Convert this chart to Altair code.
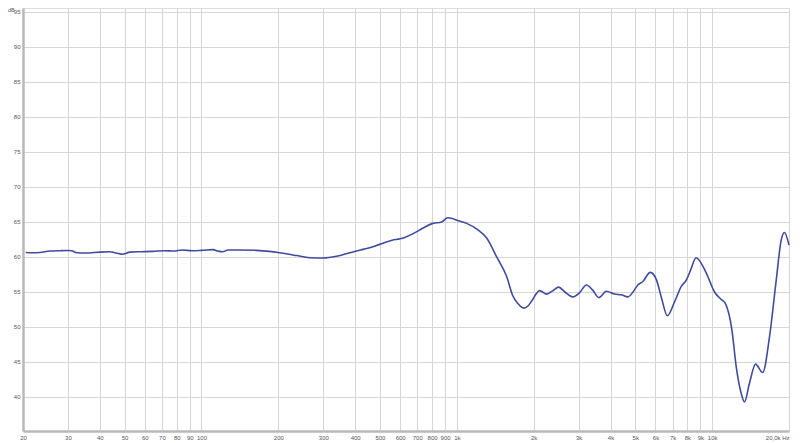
import altair as alt
import pandas as pd

# Frequency response (Hz, dB)
freq = [20.5, 22, 23.3, 25.5, 28, 30, 31, 32.5, 35.6, 38, 40, 43.8, 45.8, 48.9, 52.5,
        58, 64.5, 72, 78, 84, 92, 100, 111, 116, 121, 127, 140, 164, 185, 203, 220,
        236, 266, 300, 338, 381, 420, 444, 499, 558, 600, 625, 672, 735, 805, 873,
        921, 960, 1000, 1093, 1207, 1309, 1433, 1568, 1655, 1740, 1828, 1900, 1964,
        2112, 2248, 2380, 2506, 2650, 2843, 3027, 3217, 3400, 3603, 3852, 4150, 4408,
        4678, 4900, 5119, 5356, 5725, 6042, 6350, 6673, 7128, 7572, 7921, 8250, 8650,
        9485, 10218, 10880, 11250, 11950, 12428, 13000, 13392, 14010, 14790, 15780,
        16776, 17825, 18640, 19200, 20000]
spl = [60.65, 60.6, 60.65, 60.85, 60.9, 60.92, 60.9, 60.6, 60.57, 60.65, 60.7, 60.75,
       60.6, 60.4, 60.7, 60.75, 60.8, 60.9, 60.85, 61.0, 60.9, 60.95, 61.05, 60.85,
       60.75, 61.0, 61.0, 60.95, 60.8, 60.6, 60.4, 60.2, 59.9, 59.85, 60.1, 60.6, 61.0,
       61.2, 61.8, 62.4, 62.6, 62.8, 63.3, 64.1, 64.8, 65.0, 65.6, 65.5, 65.25, 64.8,
       63.9, 62.7, 60.0, 57.2, 54.5, 53.3, 52.7, 53.0, 53.7, 55.2, 54.7, 55.2, 55.7,
       55.0, 54.3, 54.9, 56.0, 55.3, 54.2, 55.1, 54.7, 54.6, 54.3, 55.0, 56.0, 56.5,
       57.8, 56.8, 54.0, 51.6, 53.6, 55.8, 56.7, 58.2, 59.9, 57.7, 55.0, 53.9, 53.4,
       49.6, 44.3, 40.5, 39.3, 42.0, 44.7, 43.5, 48.6, 56.7, 62.4, 63.5, 61.7]

x_ticks = [20, 30, 40, 50, 60, 70, 80, 90, 100, 200, 300, 400, 500, 600, 700, 800, 900,
           1000, 2000, 3000, 4000, 5000, 6000, 7000, 8000, 9000, 10000, 20000]
x_labels = ["20", "30", "40", "50", "60", "70", "80", "90", "100", "200", "300", "400",
            "500", "600", "700", "800", "900", "1k", "2k", "3k", "4k", "5k", "6k", "7k",
            "8k", "9k", "10k", "20,0k Hz"]
y_ticks = [40, 45, 50, 55, 60, 65, 70, 75, 80, 85, 90, 95]
y_unit = "dB"

df = pd.DataFrame({"freq": freq, "spl": spl})

label_expr = "''"
for v, lab in reversed(list(zip(x_ticks, x_labels))):
    label_expr = f"datum.value == {v} ? '{lab}' : ({label_expr})"

FONT = "Liberation Sans"

x_enc = alt.X(
    "freq:Q",
    scale=alt.Scale(type="log", domain=[20, 20000], nice=False),
    axis=alt.Axis(values=x_ticks, labelExpr=label_expr, title=None, grid=True,
                  gridColor="#d6d6d6", gridWidth=1, domainColor="#b8b8b8",
                  domainWidth=2.5, ticks=False, labelFontSize=6, labelColor="#555555",
                  labelFont=FONT, labelPadding=3, labelFlush=False, labelOverlap=False,
                  labelBound=False,
                  labelAlign={"expr": "datum.value >= 20000 ? 'right' : 'center'"}),
)
y_enc = alt.Y(
    "spl:Q",
    scale=alt.Scale(domain=[35.14, 95.57], nice=False, zero=False),
    axis=alt.Axis(values=y_ticks, title=None, grid=True, gridColor="#d6d6d6",
                  gridWidth=1, domainColor="#b8b8b8", domainWidth=2.5, ticks=False,
                  labelFontSize=6, labelColor="#555555", labelFont=FONT,
                  labelPadding=3),
)

line = alt.Chart(df).mark_line(
    color="#3f4c9e", strokeWidth=1.6, interpolate="monotone"
).encode(x=x_enc, y=y_enc)

unit = alt.Chart(pd.DataFrame({"t": [y_unit]})).mark_text(
    font=FONT, fontSize=5.5, color="#555555", align="left", baseline="top"
).encode(x=alt.value(-15), y=alt.value(0), text="t:N")

chart = alt.layer(line, unit).properties(
    width=766, height=423,
    autosize=alt.AutoSizeParams(type="none"),
    padding={"left": 15, "top": 0, "right": 3, "bottom": 12},
).configure_view(stroke="#c8c8c8", strokeWidth=2).configure(background="white")

chart.save("out.html", embed_options={"renderer": "svg", "actions": False})
